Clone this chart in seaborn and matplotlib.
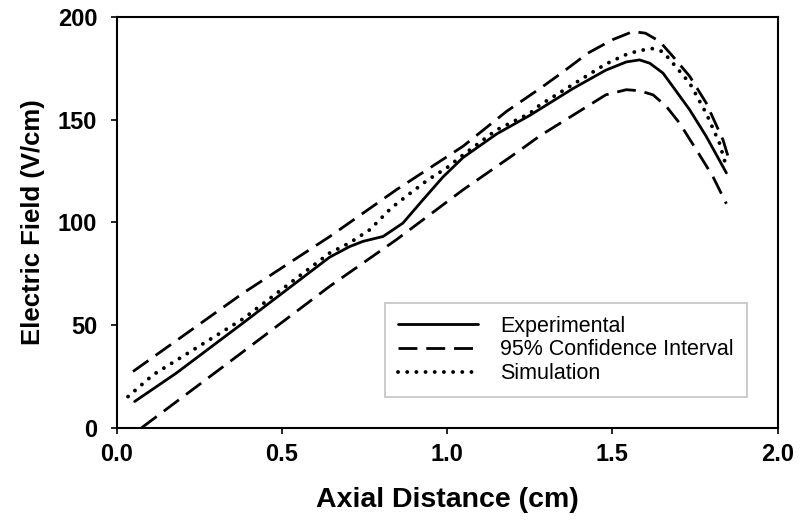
import numpy as np
import pandas as pd
import matplotlib
matplotlib.use('Agg')
import matplotlib.pyplot as plt
import seaborn as sns

# Valores (cm, V/cm)
exp_x = [0.054, 0.18, 0.382, 0.644, 0.705, 0.745, 0.806, 0.866, 0.927, 0.987, 1.048,
         1.15, 1.25, 1.38, 1.48, 1.542, 1.582, 1.613, 1.653, 1.683, 1.734, 1.784, 1.845]
exp_y = [12.8, 26.6, 51, 83, 88.2, 90.7, 93.1, 99.6, 111, 122, 131.5,
         143, 152, 165, 174, 178, 179, 177.4, 172.6, 166, 154.7, 141.8, 124]

upper_x = [0.049, 0.382, 0.644, 0.846, 1.048, 1.18, 1.28, 1.345, 1.426, 1.50, 1.562,
           1.60, 1.643, 1.683, 1.734, 1.784, 1.835, 1.85]
upper_y = [27.4, 65.5, 93, 115.8, 137, 154, 165, 172.5, 182.3, 188.8, 192.8,
           192, 188, 180.7, 171, 158, 140, 132]

lower_x = [0.075, 0.382, 0.644, 0.846, 1.048, 1.22, 1.28, 1.38, 1.48, 1.542, 1.582,
           1.623, 1.663, 1.703, 1.754, 1.804, 1.845]
lower_y = [0, 37, 68.8, 91.5, 115.8, 135, 142, 152, 162, 164.5, 164,
           162, 156.4, 148.3, 135.3, 122.3, 109]

sim_x = [0.034, 0.11, 0.382, 0.644, 0.705, 0.766, 0.831, 0.887, 0.942, 0.998, 1.05,
         1.15, 1.25, 1.28, 1.38, 1.48, 1.54, 1.58, 1.62, 1.653, 1.683, 1.734, 1.784,
         1.824, 1.845]
sim_y = [15.2, 25.8, 53, 85, 90, 96.4, 107, 114, 120.7, 126.4, 133,
         145, 153, 157, 167, 177, 181.5, 183.5, 184.5, 183, 177.4, 167.7, 153,
         138.5, 127]

sns.set_style('ticks')
plt.rcParams['font.family'] = ['Liberation Sans', 'DejaVu Sans']
plt.rcParams['text.color'] = 'black'
plt.rcParams['axes.labelcolor'] = 'black'

fig = plt.figure(figsize=(8, 5.23), dpi=100)
ax = fig.add_axes([0.146, 0.182, 0.826, 0.786])

df_exp = pd.DataFrame({'x': exp_x, 'y': exp_y})
df_up = pd.DataFrame({'x': upper_x, 'y': upper_y})
df_lo = pd.DataFrame({'x': lower_x, 'y': lower_y})
df_sim = pd.DataFrame({'x': sim_x, 'y': sim_y})

sns.lineplot(data=df_exp, x='x', y='y', ax=ax, color='black', lw=2.0,
             label='Experimental', sort=False)
sns.lineplot(data=df_up, x='x', y='y', ax=ax, color='black', lw=2.0,
             label='95% Confidence Interval', sort=False)
sns.lineplot(data=df_lo, x='x', y='y', ax=ax, color='black', lw=2.0, sort=False)
sns.lineplot(data=df_sim, x='x', y='y', ax=ax, color='black', lw=2.8,
             label='Simulation', sort=False)

lines = ax.get_lines()
for ln in lines:
    ln.set_solid_joinstyle('round')
lines[1].set_dashes([6.8, 3.2])
lines[2].set_dashes([6.8, 3.2])
lines[3].set_dashes([0.01, 2.35])
lines[3].set_dash_capstyle('round')

ax.set_xlim(0, 2.0)
ax.set_ylim(0, 200)
ax.set_xticks([0.0, 0.5, 1.0, 1.5, 2.0])
ax.set_xticklabels(['0.0', '0.5', '1.0', '1.5', '2.0'])
ax.set_yticks([0, 50, 100, 150, 200])
ax.tick_params(direction='out', length=4, width=1.2, labelsize=17, colors='black')
ax.tick_params(axis='x', pad=7)
ax.tick_params(axis='y', pad=10)
for lab in ax.get_xticklabels() + ax.get_yticklabels():
    lab.set_fontweight('bold')
for s in ax.spines.values():
    s.set_visible(True)
    s.set_linewidth(1.5)
    s.set_color('black')

ax.set_xlabel('Axial Distance (cm)', fontsize=20.5, fontweight='bold', labelpad=15)
ax.set_ylabel('Electric Field (V/cm)', fontsize=18.5, fontweight='bold', labelpad=9)

leg = ax.legend(loc='lower right', bbox_to_anchor=(0.953, 0.075), borderaxespad=0,
                frameon=True, fancybox=False, fontsize=15.5, handlelength=3.75,
                handletextpad=1.0, borderpad=0.6, labelspacing=0.12)
leg.get_frame().set_edgecolor('#b5b5b5')
leg.get_frame().set_linewidth(1.2)

fig.savefig('out.png', dpi=100)
